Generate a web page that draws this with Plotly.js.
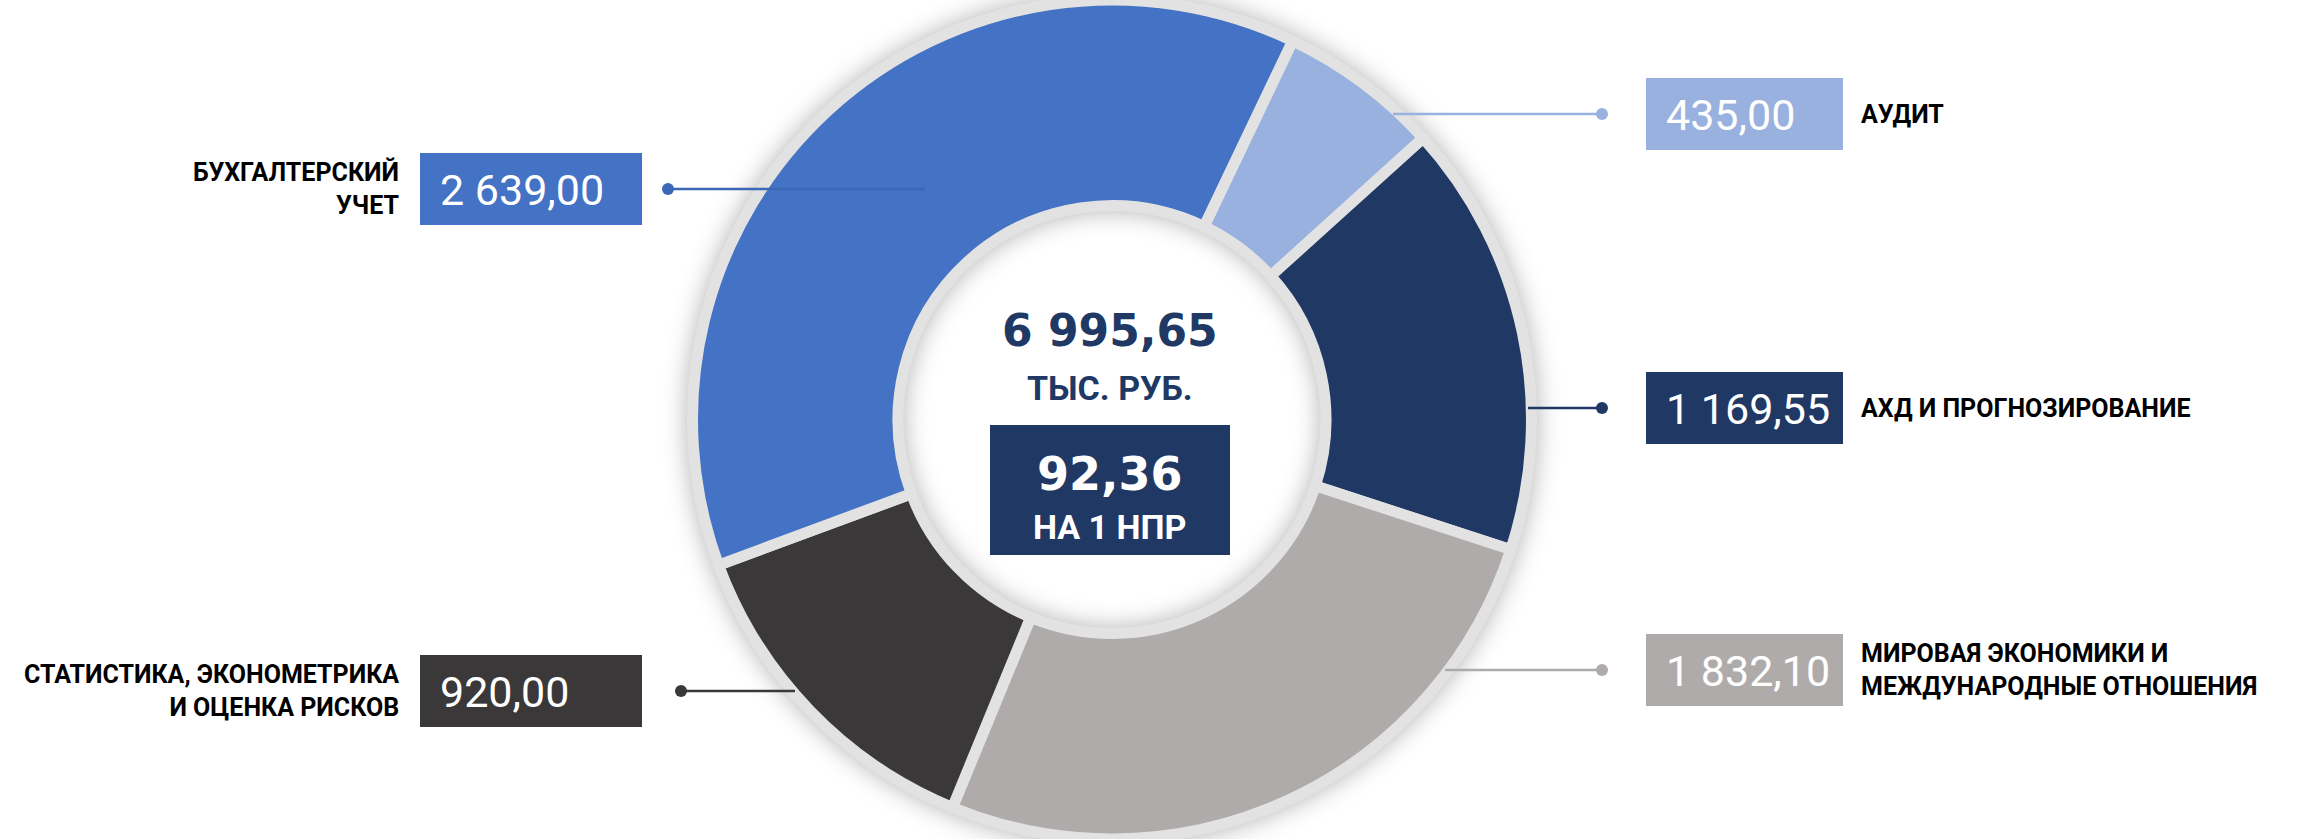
<!DOCTYPE html>
<html>
<head>
<meta charset="utf-8">
<script src="https://cdn.plot.ly/plotly-3.0.1.min.js"></script>
<style>
  html, body { margin: 0; padding: 0; background: #ffffff; }
  #chart { width: 2303px; height: 839px; }
  #chart .pielayer { filter: drop-shadow(0px 0px 12px rgba(0,0,0,0.30)); }
</style>
</head>
<body>
<div id="chart"></div>
<script>
// ---------- DATA ----------
const categories = [
  'АУДИТ',
  'АХД И ПРОГНОЗИРОВАНИЕ',
  'МИРОВАЯ ЭКОНОМИКИ И<br>МЕЖДУНАРОДНЫЕ ОТНОШЕНИЯ',
  'СТАТИСТИКА, ЭКОНОМЕТРИКА<br>И ОЦЕНКА РИСКОВ',
  'БУХГАЛТЕРСКИЙ<br>УЧЕТ'
];
const values = [435.00, 1169.55, 1832.10, 920.00, 2639.00];
const colors = ['#98B1DE', '#203864', '#AFABAB', '#3A3838', '#4472C4'];
const lineColors = ['#98B1DE', '#203864', '#AFABAB', '#3A3838', '#3C66B6'];
const perPersonValue = 92.36;
const totalUnit = 'ТЫС. РУБ.';
const perPersonUnit = 'НА 1 НПР';

// ---------- LAYOUT (positions in px) ----------
const W = 2303, H = 839;
const labelPos = [
  {side: 'right', boxTop: 78,  lineEnd: 1393, dotX: 1602},
  {side: 'right', boxTop: 372, lineEnd: 1528, dotX: 1602},
  {side: 'right', boxTop: 634, lineEnd: 1445, dotX: 1602},
  {side: 'left',  boxTop: 655, lineEnd: 795,  dotX: 681},
  {side: 'left',  boxTop: 153, lineEnd: 925,  dotX: 668}
];
const BOX_H = 72;
const LEFT_BOX = [420, 642], RIGHT_BOX = [1646, 1843];

function fmt(v) {
  const parts = v.toFixed(2).split('.');
  const intPart = parts[0].replace(/\B(?=(\d{3})+(?!\d))/g, ' ');
  return intPart + ',' + parts[1];
}
const X = px => px / W;
const Y = py => 1 - py / H;

const total = values.reduce((a, b) => a + b, 0);

const pieCx = 1112;
const R = H / 2;

const trace = {
  type: 'pie',
  labels: categories,
  values: values,
  sort: false,
  direction: 'clockwise',
  rotation: 25.5,
  hole: 0.51,
  textinfo: 'none',
  hoverinfo: 'skip',
  marker: { colors: colors, line: { color: '#e2e2e2', width: 11 } },
  domain: { x: [X(pieCx - R), X(pieCx + R)], y: [0, 1] },
  showlegend: false
};

const shapes = [];
const annotations = [];

labelPos.forEach((p, i) => {
  const box = p.side === 'left' ? LEFT_BOX : RIGHT_BOX;
  const cy = p.boxTop + BOX_H / 2;
  shapes.push({
    type: 'rect', xref: 'paper', yref: 'paper',
    x0: X(box[0]), x1: X(box[1]), y0: Y(p.boxTop + BOX_H), y1: Y(p.boxTop),
    fillcolor: colors[i], line: { width: 0 }, layer: 'above'
  });
  shapes.push({
    type: 'line', xref: 'paper', yref: 'paper',
    x0: X(p.dotX), x1: X(p.lineEnd), y0: Y(cy), y1: Y(cy),
    line: { color: lineColors[i], width: 2.5 }, layer: 'above'
  });
  shapes.push({
    type: 'circle', xref: 'paper', yref: 'paper',
    x0: X(p.dotX - 6), x1: X(p.dotX + 6), y0: Y(cy + 6), y1: Y(cy - 6),
    fillcolor: lineColors[i], line: { width: 0 }, layer: 'above'
  });
  annotations.push({
    xref: 'paper', yref: 'paper', x: X(box[0] + 18), y: Y(cy + 1),
    xanchor: 'left', yanchor: 'middle', showarrow: false,
    text: fmt(values[i]),
    font: { family: 'Roboto, sans-serif', size: 43, color: '#ffffff' }
  });
  annotations.push({
    xref: 'paper', yref: 'paper',
    x: p.side === 'left' ? X(401) : X(1859), y: Y(cy),
    xanchor: p.side === 'left' ? 'right' : 'left', yanchor: 'middle',
    align: p.side === 'left' ? 'right' : 'left',
    showarrow: false, text: '<b>' + categories[i] + '</b>',
    font: { family: 'Roboto, sans-serif', size: 25, color: '#000000' }
  });
});

// centre box
shapes.push({
  type: 'rect', xref: 'paper', yref: 'paper',
  x0: X(990), x1: X(1230), y0: Y(555), y1: Y(425),
  fillcolor: '#203864', line: { width: 0 }, layer: 'above'
});
annotations.push({
  xref: 'paper', yref: 'paper', x: X(1110), y: Y(330), xanchor: 'center', yanchor: 'middle',
  showarrow: false, text: '<b>' + fmt(total) + '</b>',
  font: { family: 'DejaVu Sans, sans-serif', size: 44, color: '#203864' }
});
annotations.push({
  xref: 'paper', yref: 'paper', x: X(1110), y: Y(388), xanchor: 'center', yanchor: 'middle',
  showarrow: false, text: '<b>' + totalUnit + '</b>',
  font: { family: 'Roboto, sans-serif', size: 34, color: '#203864' }
});
annotations.push({
  xref: 'paper', yref: 'paper', x: X(1110), y: Y(474), xanchor: 'center', yanchor: 'middle',
  showarrow: false, text: '<b>' + fmt(perPersonValue) + '</b>',
  font: { family: 'DejaVu Sans, sans-serif', size: 46, color: '#ffffff' }
});
annotations.push({
  xref: 'paper', yref: 'paper', x: X(1110), y: Y(527), xanchor: 'center', yanchor: 'middle',
  showarrow: false, text: '<b>' + perPersonUnit + '</b>',
  font: { family: 'Roboto, sans-serif', size: 34, color: '#ffffff' }
});

const layout = {
  width: W, height: H,
  margin: { l: 0, r: 0, t: 0, b: 0 },
  paper_bgcolor: '#ffffff',
  plot_bgcolor: '#ffffff',
  showlegend: false,
  shapes: shapes,
  annotations: annotations
};

Plotly.newPlot('chart', [trace], layout, { staticPlot: true, displayModeBar: false });
</script>
</body>
</html>
